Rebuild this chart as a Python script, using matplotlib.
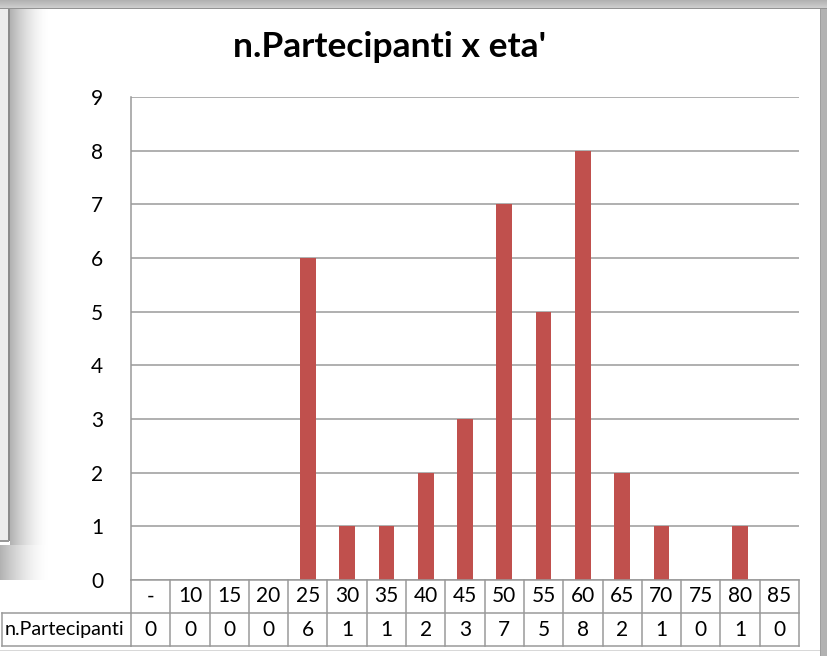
import numpy as np
import matplotlib
matplotlib.use("Agg")
import matplotlib.pyplot as plt
from matplotlib.transforms import blended_transform_factory

plt.rcParams["font.family"] = ["Lato", "DejaVu Sans"]

# data
ages = ["-", "10", "15", "20", "25", "30", "35", "40", "45", "50",
        "55", "60", "65", "70", "75", "80", "85"]
partecipanti = [0, 0, 0, 0, 6, 1, 1, 2, 3, 7, 5, 8, 2, 1, 0, 1, 0]
series_name = "n.Partecipanti"
title = "n.Partecipanti x eta'"

W, H = 827, 656
BAR = "#C0504D"
GRID = "#9A9A9A"
FS = 15
fig = plt.figure(figsize=(W / 100, H / 100), dpi=100)

# ---- screenshot-like frame / shadows (background image) ----
bg = np.ones((H, W))
for r in range(8):
    bg[r, :] = 0.70 + 0.015 * r
bg[8, :] = 0.58
for y0, y1, xs in ((9, 545, 10), (545, 580, 0)):
    xx = np.arange(xs, 48)
    bg[y0:y1, xs:48] = 1 - 0.30 * ((48 - xx) / (48 - xs)) ** 1.6
bg[9:541, 0:8] = 0.93
bg[9:541, 8:10] = 0.55
bg[540:542, 0:9] = 0.6
bg[9:H, 820] = 0.62
bg[9:H, 821:] = 0.70
bg[650, 0:820] = 0.85
bax = fig.add_axes([0, 0, 1, 1], zorder=0)
bax.imshow(np.dstack([bg] * 3), aspect="auto", extent=(0, W, H, 0), interpolation="nearest")
bax.axis("off")

# ---- chart axes ----
L, R, T, B = 131, 799, 97, 580
ax = fig.add_axes([L / W, 1 - B / H, (R - L) / W, (B - T) / H], zorder=2)
ax.set_facecolor("none")
x = np.arange(len(ages))
ax.bar(x, partecipanti, width=0.4, color=BAR, zorder=3)
ax.set_xlim(-0.5, len(ages) - 0.5)
ax.set_ylim(0, 9)
ax.set_yticks(range(10))
ax.yaxis.grid(True, color=GRID, lw=1.1)
ax.set_axisbelow(True)
for s in ("top", "right", "bottom"):
    ax.spines[s].set_visible(False)
ax.spines["left"].set_color(GRID)
ax.spines["left"].set_linewidth(1.1)
ax.tick_params(axis="y", length=0, pad=20, labelsize=FS)
ax.tick_params(axis="x", length=0, labelbottom=False)

fig.text(390 / W, 1 - 47 / H, title, ha="center", va="center",
         fontsize=25.5, fontweight="bold")

# ---- data table below the axes ----
tr = blended_transform_factory(ax.transData, ax.transAxes)
ph = B - T
rh = 33 / ph
y_r1, y_r2, y_r3 = 0, -rh, -2 * rh
lkw = dict(color=GRID, lw=1.1, clip_on=False, zorder=4)
for yy in (y_r1, y_r2, y_r3):
    ax.plot([-0.5, len(ages) - 0.5], [yy, yy], transform=tr, **lkw)
for b in np.arange(len(ages) + 1) - 0.5:
    ax.plot([b, b], [y_r1, y_r3], transform=tr, **lkw)
# header cell
xl = (2 - L) / (R - L)
ax.plot([xl, 0], [y_r2, y_r2], transform=ax.transAxes, **lkw)
ax.plot([xl, 0], [y_r3, y_r3], transform=ax.transAxes, **lkw)
ax.plot([xl, xl], [y_r2, y_r3], transform=ax.transAxes, **lkw)
ax.text((5 - L) / (R - L), (y_r2 + y_r3) / 2, series_name, transform=ax.transAxes,
        ha="left", va="center", fontsize=14.2)
for i, (a, v) in enumerate(zip(ages, partecipanti)):
    ax.text(i, (y_r1 + y_r2) / 2, a, transform=tr, ha="center", va="center", fontsize=FS)
    ax.text(i, (y_r2 + y_r3) / 2, str(v), transform=tr, ha="center", va="center", fontsize=FS)

fig.savefig("out.png", dpi=100)
